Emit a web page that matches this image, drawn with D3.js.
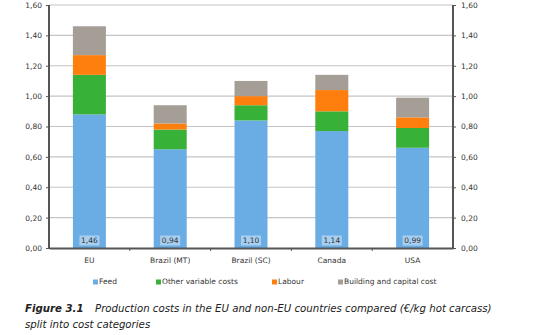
<!DOCTYPE html>
<html>
<head>
<meta charset="utf-8">
<script src="https://cdn.jsdelivr.net/npm/d3@7/dist/d3.min.js"></script>
<style>
body { margin: 0; background: #fff; }
svg { display: block; font-family: "DejaVu Sans", Verdana, sans-serif; }
</style>
</head>
<body>
<svg id="chart" width="554" height="335"></svg>
<script>
var countries = ["EU", "Brazil (MT)", "Brazil (SC)", "Canada", "USA"];
var feed = [0.88, 0.65, 0.84, 0.77, 0.66];
var other = [0.26, 0.13, 0.10, 0.13, 0.13];
var labour = [0.13, 0.04, 0.06, 0.14, 0.07];
var building = [0.19, 0.12, 0.10, 0.10, 0.13];
var totals = [1.46, 0.94, 1.10, 1.14, 0.99];
var series_names = ["Feed", "Other variable costs", "Labour", "Building and capital cost"];
var colors = ["#6aade4", "#37b137", "#ff7f0e", "#a59e96"];
var y_ticks = [0, 0.2, 0.4, 0.6, 0.8, 1.0, 1.2, 1.4, 1.6];

var fmt = function(d) { return d3.format(".2f")(d).replace(".", ","); };

var svg = d3.select("#chart");
var left_x = 49, right_x = 453, top_y = 5, bottom_y = 248;

var x = d3.scaleBand().domain(countries).range([left_x, right_x]);
var y = d3.scaleLinear().domain([0, 1.6]).range([bottom_y, top_y]);
var bar_w = 33;

// grid
svg.append("g").selectAll("line").data(y_ticks.slice(1)).enter()
    .append("line")
    .attr("x1", left_x).attr("x2", right_x)
    .attr("y1", function(d) { return y(d); })
    .attr("y2", function(d) { return y(d); })
    .attr("stroke", "#c4c4c4").attr("stroke-width", 1.2);

// stacks
var rows = countries.map(function(c, i) {
    return { country: c, feed: feed[i], other: other[i], labour: labour[i], building: building[i] };
});
var stack = d3.stack().keys(["feed", "other", "labour", "building"])(rows);

svg.append("g").selectAll("g").data(stack).enter()
    .append("g")
    .attr("fill", function(d, i) { return colors[i]; })
    .selectAll("rect").data(function(d) { return d; }).enter()
    .append("rect")
        .attr("x", function(d) { return x(d.data.country) + x.bandwidth() / 2 - bar_w / 2; })
        .attr("width", bar_w)
        .attr("y", function(d) { return y(d[1]); })
        .attr("height", function(d) { return y(d[0]) - y(d[1]); });

// total labels
var lab = svg.append("g").selectAll("g").data(countries).enter()
    .append("g")
    .attr("transform", function(d) { return "translate(" + (x(d) + x.bandwidth() / 2) + "," + (bottom_y - 7) + ")"; });
lab.append("rect")
    .attr("x", -10).attr("y", -5.5).attr("width", 20).attr("height", 10)
    .attr("fill", "#a9cff0");
lab.append("text")
    .attr("text-anchor", "middle").attr("dy", "0.33em")
    .attr("font-size", 7.5).attr("fill", "#333")
    .text(function(d, i) { return fmt(totals[i]); });

// axes
var axis_left = d3.axisLeft(y).tickValues(y_ticks).tickSize(3).tickFormat(fmt);
var axis_right = d3.axisRight(y).tickValues(y_ticks).tickSize(3).tickFormat(fmt);

var gl = svg.append("g").attr("transform", "translate(" + left_x + ",0)").call(axis_left);
var gr = svg.append("g").attr("transform", "translate(" + right_x + ",0)").call(axis_right);
[gl, gr].forEach(function(g) {
    g.select(".domain").remove();
    g.selectAll("line").attr("stroke", "#555");
    g.selectAll("text").attr("font-size", 7.5).attr("fill", "#333").attr("font-family", "DejaVu Sans");
});
gl.selectAll("text").attr("x", -7);
gr.selectAll("text").attr("x", 8);

svg.append("line").attr("x1", left_x).attr("x2", left_x).attr("y1", top_y).attr("y2", bottom_y + 1)
    .attr("stroke", "#555").attr("stroke-width", 2);
svg.append("line").attr("x1", right_x).attr("x2", right_x).attr("y1", top_y).attr("y2", bottom_y + 1)
    .attr("stroke", "#555").attr("stroke-width", 2);

var gx = svg.append("g").attr("transform", "translate(0," + bottom_y + ")")
    .call(d3.axisBottom(x).tickSize(0).tickPadding(10));
gx.select(".domain").attr("stroke", "#555").attr("stroke-width", 2);
gx.selectAll("text").attr("font-size", 7.5).attr("fill", "#333").attr("font-family", "DejaVu Sans");
gx.selectAll(".boundary").data(countries.slice(1)).enter()
    .append("line").attr("class", "boundary")
    .attr("x1", function(d) { return x(d); }).attr("x2", function(d) { return x(d); })
    .attr("y1", 1).attr("y2", 3).attr("stroke", "#555");

// legend
var legend_x = [93, 156, 272, 338];
var lg = svg.append("g").selectAll("g").data(series_names).enter()
    .append("g")
    .attr("transform", function(d, i) { return "translate(" + legend_x[i] + ",282)"; });
lg.append("rect").attr("x", 0).attr("y", -2.5).attr("width", 5).attr("height", 5)
    .attr("fill", function(d, i) { return colors[i]; });
lg.append("text").attr("x", 6).attr("dy", "0.33em")
    .attr("font-size", 7.5).attr("fill", "#333").text(function(d) { return d; });

// caption
var cap = svg.append("text").attr("x", 25).attr("y", 312)
    .attr("font-size", 10.2).attr("font-style", "italic").attr("fill", "#222");
cap.append("tspan").attr("font-weight", "bold").text("Figure 3.1");
cap.append("tspan").attr("x", 95).text("Production costs in the EU and non-EU countries compared (\u20ac/kg hot carcass)");
svg.append("text").attr("x", 25).attr("y", 328)
    .attr("font-size", 10.2).attr("font-style", "italic").attr("fill", "#222")
    .text("split into cost categories");
</script>
</body>
</html>
